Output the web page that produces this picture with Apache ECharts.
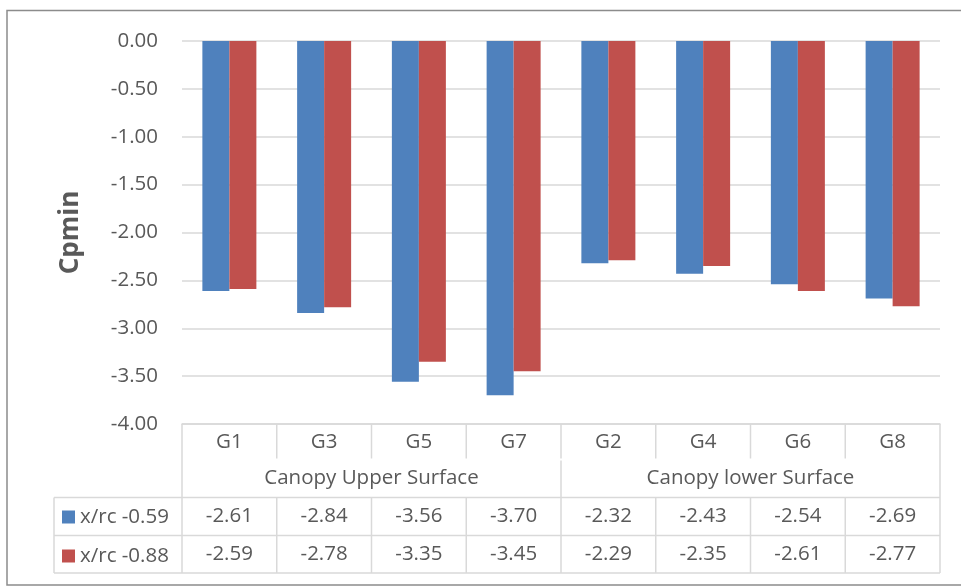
<!DOCTYPE html>
<html>
<head>
<meta charset="utf-8">
<script src="https://cdn.jsdelivr.net/npm/echarts@6/dist/echarts.min.js"></script>
<style>
  html, body { margin: 0; padding: 0; background: #ffffff; }
  #chart { width: 961px; height: 586px; }
</style>
</head>
<body>
<div id="chart"></div>
<script>
// Gauge points, grouped by surface
const categories = ['G1', 'G3', 'G5', 'G7', 'G2', 'G4', 'G6', 'G8'];
const groups = ['Canopy Upper Surface', 'Canopy lower Surface'];
const seriesNames = ['x/rc -0.59', 'x/rc -0.88'];
const values059 = [-2.61, -2.84, -3.56, -3.70, -2.32, -2.43, -2.54, -2.69];
const values088 = [-2.59, -2.78, -3.35, -3.45, -2.29, -2.35, -2.61, -2.77];
const yTicks = [0, -0.5, -1, -1.5, -2, -2.5, -3, -3.5, -4];

const FONT = '"Open Sans", "Noto Sans", sans-serif';
const FS = 20.5;
const TXT = '#595959';
const LINE = '#d9d9d9';
const COLORS = ['#4f81bd', '#c0504d'];

// plot frame and data-table rows
const G = { left: 182, right: 940, top: 41, bottom: 424 };
const ROW = { head: 424, group: 460.5, s1: 497.5, s2: 535.5, end: 573 };
const KEY_LEFT = 54;

const chart = echarts.init(document.getElementById('chart'), null, { renderer: 'canvas' });

const option = {
  animation: false,
  backgroundColor: '#ffffff',
  color: COLORS,
  textStyle: { fontFamily: FONT },
  grid: { left: G.left, top: G.top, width: G.right - G.left, height: G.bottom - G.top, containLabel: false },
  legend: {
    orient: 'vertical',
    left: 62,
    top: (ROW.s1 + ROW.s2) / 2 - 10,
    padding: 0,
    itemWidth: 13,
    itemHeight: 13,
    itemGap: (ROW.s2 - ROW.s1) - 20,
    icon: 'rect',
    selectedMode: false,
    textStyle: { color: TXT, fontSize: FS, fontFamily: FONT, lineHeight: 20 },
    data: seriesNames
  },
  xAxis: [
    {
      type: 'category',
      data: categories,
      position: 'bottom',
      axisLine: { onZero: false, lineStyle: { color: LINE, width: 1.5 } },
      axisTick: { show: false },
      axisLabel: { color: TXT, fontSize: FS, fontFamily: FONT, margin: 6, lineHeight: 24 },
      splitLine: { show: false }
    },
    {
      type: 'category',
      data: groups,
      position: 'bottom',
      offset: ROW.group - ROW.head,
      axisLine: { show: false },
      axisTick: { show: false },
      axisLabel: { color: TXT, fontSize: FS, fontFamily: FONT, margin: 6, lineHeight: 24 },
      splitLine: { show: false }
    }
  ],
  yAxis: {
    type: 'value',
    min: -4,
    max: 0,
    interval: 0.5,
    name: 'Cpmin',
    nameLocation: 'middle',
    nameRotate: 90,
    nameGap: 98,
    nameTextStyle: { color: TXT, fontSize: 26, fontWeight: 'bold', fontFamily: FONT },
    axisLine: { show: false },
    axisTick: { show: false },
    axisLabel: {
      color: TXT, fontSize: FS, fontFamily: FONT, margin: 24,
      formatter: v => v.toFixed(2)
    },
    splitLine: { lineStyle: { color: LINE, width: 1.5 } }
  },
  series: [
    {
      name: seriesNames[0], type: 'bar', data: values059,
      barGap: '0%', barCategoryGap: '43%',
      itemStyle: { color: COLORS[0] }
    },
    {
      name: seriesNames[1], type: 'bar', data: values088,
      barGap: '0%', barCategoryGap: '43%',
      itemStyle: { color: COLORS[1] }
    }
  ]
};

chart.setOption(option);

// Data table drawn under the plot, aligned to the category axis
const xs = categories.map(c => chart.convertToPixel({ xAxisIndex: 0 }, c));
const colW = xs.length > 1 ? xs[1] - xs[0] : 94;
const bounds = [G.left].concat(xs.map(x => x + colW / 2));
const mid = G.left + (G.right - G.left) / 2;

const line = (x1, y1, x2, y2) => ({
  type: 'line', silent: true,
  shape: { x1, y1, x2, y2 },
  style: { stroke: LINE, lineWidth: 1.5 }
});
const text = (x, y, s) => ({
  type: 'text', silent: true,
  style: { x, y, text: s, fill: TXT, font: FS + 'px ' + FONT, textAlign: 'center', textVerticalAlign: 'middle' }
});

const els = [];
// header separators between gauge names
bounds.slice(1, -1).forEach(b => els.push(line(b, ROW.head, b, ROW.group - 2)));
// frame of the category block
els.push(line(G.left, ROW.head, G.left, ROW.end));
els.push(line(G.right, ROW.head, G.right, ROW.end));
els.push(line(mid, ROW.group, mid, ROW.s1));
// series rows
[ROW.s1, ROW.s2, ROW.end].forEach(y => els.push(line(KEY_LEFT, y, G.right, y)));
els.push(line(KEY_LEFT, ROW.s1, KEY_LEFT, ROW.end));
bounds.slice(1, -1).forEach(b => els.push(line(b, ROW.s1, b, ROW.end)));
// values
const y1 = (ROW.s1 + ROW.s2) / 2, y2 = (ROW.s2 + ROW.end) / 2;
xs.forEach((x, i) => {
  els.push(text(x, y1, values059[i].toFixed(2)));
  els.push(text(x, y2, values088[i].toFixed(2)));
});
// outer chart frame
els.push({
  type: 'rect', silent: true,
  shape: { x: 7, y: 10.5, width: 970, height: 574.5 },
  style: { fill: null, stroke: '#8c8c8c', lineWidth: 1.5 }
});

chart.setOption({ graphic: { elements: els } });
</script>
</body>
</html>
